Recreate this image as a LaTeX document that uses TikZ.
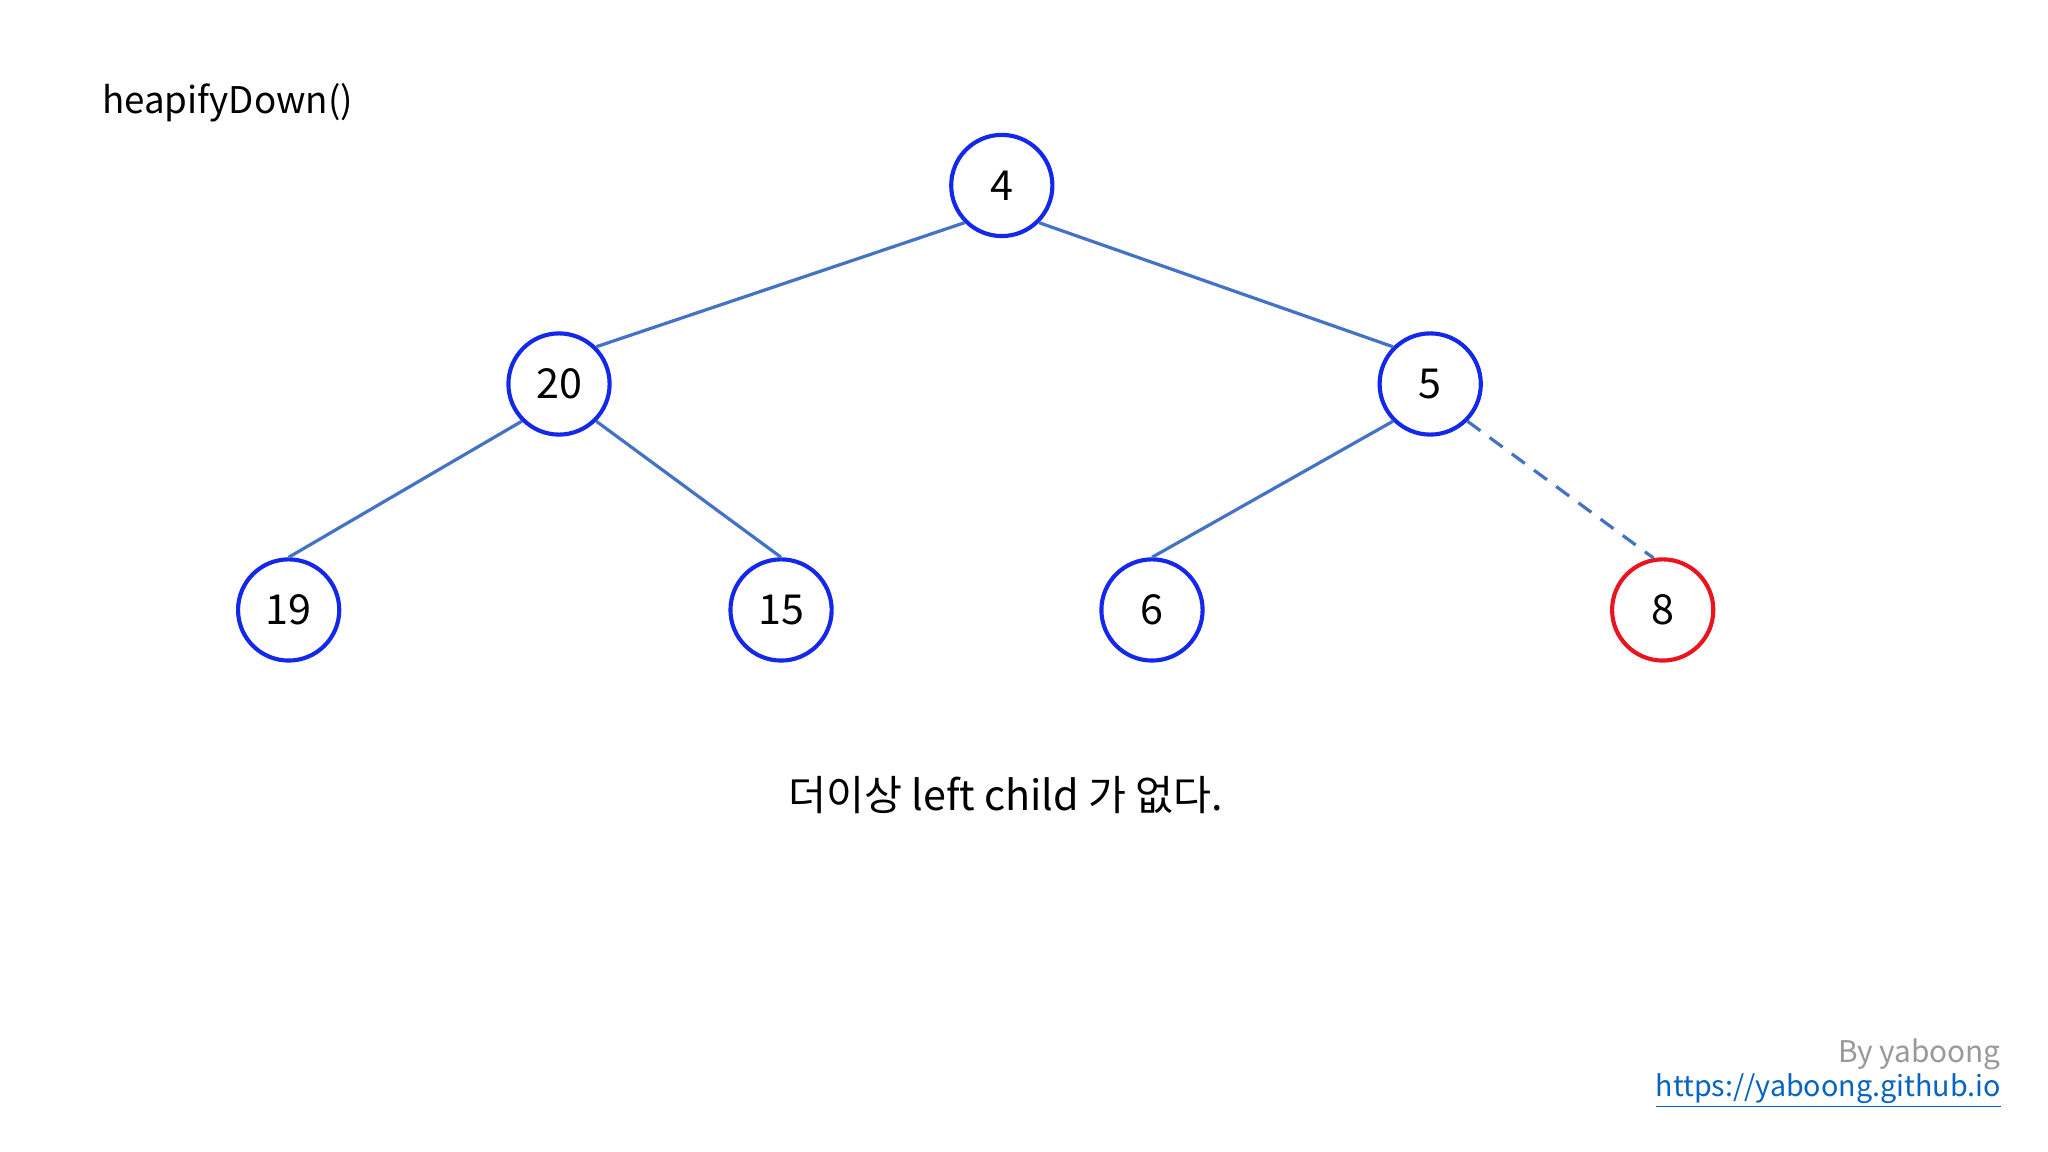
\documentclass[tikz,border=0pt]{standalone}
\usepackage{fontspec}
\setmainfont{Noto Sans CJK KR}
\begin{document}
\begin{tikzpicture}[x=0.02cm,y=-0.02cm,
  nd/.style={circle,draw={rgb,255:red,20;green,40;blue,235},line width=1.8pt,minimum size=1.55cm,inner sep=0pt,font=\fontsize{18}{20}\selectfont},
  ed/.style={draw={rgb,255:red,68;green,114;blue,196},line width=1.4pt}]
\fill[white] (0,0) rectangle (1568,882);
\useasboundingbox (0,0) rectangle (1568,882);
\node[anchor=west,font=\fontsize{16}{20}\selectfont] (t) at (72,79) {heapifyDown()};
\node[nd] (n4) at (767,142) {4};
\node[nd] (n20) at (428,294) {20};
\node[nd] (n5) at (1095,294) {5};
\node[nd] (n19) at (221,467) {19};
\node[nd] (n15) at (598,467) {15};
\node[nd] (n6) at (882,467) {6};
\node[nd,draw={rgb,255:red,235;green,20;blue,30}] (n8) at (1273,467) {8};
\draw[ed] (n4.south west)--(n20.north east); \draw[ed] (n4.south east)--(n5.north west);
\draw[ed] (n20.south west)--(n19.north); \draw[ed] (n20.south east)--(n15.north);
\draw[ed] (n5.south west)--(n6.north); \draw[ed,dash pattern=on 7pt off 5pt] (n5.south east)--(n8.100);
\node[font=\fontsize{18}{20}\selectfont] (c) at (770,609) {더이상 left child 가 없다.};
\node[anchor=east,text=gray!80,font=\fontsize{13}{16}\selectfont] (b) at (1538,807) {By yaboong};
\node[anchor=east,text={rgb,255:red,5;green,99;blue,193},font=\fontsize{12.5}{16}\selectfont] (u) at (1538,835) {\underline{https://yaboong.github.io}};
\end{tikzpicture}
\end{document}
